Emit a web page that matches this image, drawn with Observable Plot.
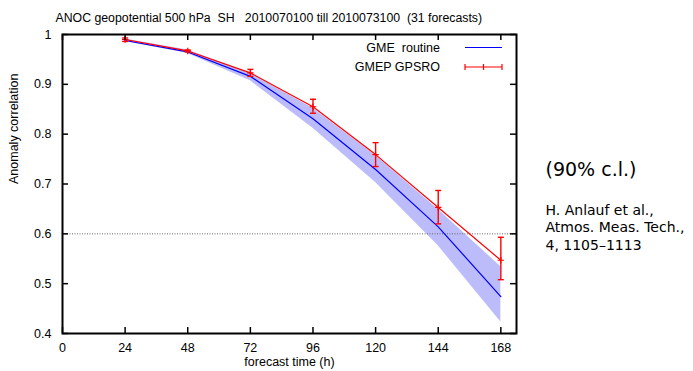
<!DOCTYPE html>
<html>
<head>
<meta charset="utf-8">
<script src="https://cdn.jsdelivr.net/npm/d3@7"></script>
<script src="https://cdn.jsdelivr.net/npm/@observablehq/plot@0.6"></script>
<style>
  html, body { margin: 0; padding: 0; background: #fff; }
  svg text { white-space: pre; }
</style>
</head>
<body>
<div id="chart"></div>
<script>
// ---- data ----
const hours        = [24, 48, 72, 96, 120, 144, 168];
const gmeRoutine   = [0.988, 0.965, 0.916, 0.831, 0.729, 0.614, 0.474];
const routineLow   = [0.986, 0.962, 0.907, 0.812, 0.703, 0.576, 0.423];
const routineHigh  = [0.991, 0.969, 0.922, 0.852, 0.757, 0.649, 0.534];
const gmepGpsro    = [0.990, 0.967, 0.923, 0.855, 0.759, 0.653, 0.547];
const gpsroLow     = [0.986, 0.965, 0.916, 0.842, 0.735, 0.620, 0.508];
const gpsroHigh    = [0.993, 0.969, 0.930, 0.870, 0.783, 0.687, 0.593];
const xTicks       = [0, 24, 48, 72, 96, 120, 144, 168];
const yTicks       = [0.4, 0.5, 0.6, 0.7, 0.8, 0.9, 1];
const refLevel     = [0.6];
const seriesNames  = ["GME  routine", "GMEP GPSRO"];
const titleText    = "ANOC geopotential 500 hPa  SH   2010070100 till 2010073100  (31 forecasts)";
const xLabel       = "forecast time (h)";
const yLabel       = "Anomaly correlation";
const noteBig      = "(90% c.l.)";
const noteRef      = "H. Anlauf et al.,\nAtmos. Meas. Tech.,\n4, 1105\u20131113";

const rows = hours.map((h, i) => ({
  h, gme: gmeRoutine[i], lo: routineLow[i], hi: routineHigh[i],
  gp: gmepGpsro[i], gpLo: gpsroLow[i], gpHi: gpsroHigh[i]
}));

const BLUE = "#0000ff", RED = "#ff0000", BAND = "#bcbcfb";
const W = 693, H = 371, ML = 62, MR = 177, MT = 34, MB = 38;
const FW = W - ML - MR, FH = H - MT - MB;
const TL = 6;

const cap = { draw(ctx, size) { const r = Math.sqrt(size / Math.PI); ctx.moveTo(-r, 0); ctx.lineTo(r, 0); } };

const chart = Plot.plot({
  width: W, height: H,
  marginLeft: ML, marginRight: MR, marginTop: MT, marginBottom: MB,
  style: { fontFamily: "'Liberation Sans', Arial, sans-serif", fontSize: "12.5px", background: "#fff", color: "#000" },
  x: { domain: [0, 174] },
  y: { domain: [0.4, 1] },
  marks: [
    Plot.areaY(rows, { x: "h", y1: "lo", y2: "hi", fill: BAND }),
    Plot.ruleY(refLevel, { stroke: "#666", strokeWidth: 1, strokeDasharray: "1,1.5" }),
    Plot.line(rows, { x: "h", y: "gme", stroke: BLUE, strokeWidth: 1.2 }),
    Plot.line(rows, { x: "h", y: "gp", stroke: RED, strokeWidth: 1.2 }),
    Plot.ruleX(rows, { x: "h", y1: "gpLo", y2: "gpHi", stroke: RED, strokeWidth: 1.4 }),
    Plot.dot(rows, { x: "h", y: "gpLo", symbol: cap, r: 3, fill: "none", stroke: RED, strokeWidth: 1.4 }),
    Plot.dot(rows, { x: "h", y: "gpHi", symbol: cap, r: 3, fill: "none", stroke: RED, strokeWidth: 1.4 }),
    Plot.dot(rows, { x: "h", y: "gp", symbol: "plus", r: 2.2, fill: "none", stroke: RED, strokeWidth: 1.2 }),
    // inward ticks (bottom/top/left/right)
    Plot.tickX(xTicks, { x: d => d, insetTop: FH - TL, stroke: "#000", strokeWidth: 1.5 }),
    Plot.tickX(xTicks, { x: d => d, insetBottom: FH - TL, stroke: "#000", strokeWidth: 1.5 }),
    Plot.tickY(yTicks, { y: d => d, insetRight: FW - TL, stroke: "#000", strokeWidth: 1.5 }),
    Plot.tickY(yTicks, { y: d => d, insetLeft: FW - TL, stroke: "#000", strokeWidth: 1.5 }),
    Plot.axisX({ ticks: xTicks, tickSize: 0, tickPadding: 10, label: null, tickFormat: d => String(d) }),
    Plot.axisY({ ticks: yTicks, tickSize: 0, tickPadding: 11, label: null, tickFormat: d => (d === 1 ? "1" : d.toFixed(1)) }),
    Plot.frame({ stroke: "#000", strokeWidth: 2 }),
    Plot.text([xLabel], { frameAnchor: "bottom", dy: 32.5, fontSize: 12.5 }),
    Plot.text([yLabel], { frameAnchor: "left", dx: -49, rotate: -90, fontSize: 12.5 }),
    Plot.text([titleText], { frameAnchor: "top-left", textAnchor: "start", dx: -7, dy: -21.5, fontSize: 12.3 }),
    Plot.text([noteBig], { frameAnchor: "top-right", textAnchor: "start", dx: 29, dy: 128,
      fontSize: 19, fontFamily: "'DejaVu Sans', sans-serif", style: "letter-spacing:1.2px" }),
    Plot.text([noteRef], { frameAnchor: "top-right", textAnchor: "start", lineAnchor: "top", lineHeight: 1.25,
      dx: 29, dy: 168, fontSize: 14, fontFamily: "'DejaVu Sans', sans-serif" })
  ]
});

document.getElementById("chart").appendChild(chart);

// legend (inside frame, top right)
const svg = d3.select(chart.tagName.toLowerCase() === "svg" ? chart : chart.querySelector("svg"));
const right = W - MR;
const lg = svg.append("g").attr("font-family", "'Liberation Sans', Arial, sans-serif").attr("font-size", 12.5);
const rowY = [MT + 13.5, MT + 33];
seriesNames.forEach((name, i) => {
  lg.append("text").attr("x", right - 76).attr("y", rowY[i]).attr("dy", "0.35em")
    .attr("text-anchor", "end").attr("fill", "#000").style("white-space", "pre").text(name);
});
lg.append("line").attr("x1", right - 51).attr("x2", right - 14).attr("y1", rowY[0]).attr("y2", rowY[0])
  .attr("stroke", BLUE).attr("stroke-width", 1.2);
lg.append("line").attr("x1", right - 51).attr("x2", right - 14).attr("y1", rowY[1]).attr("y2", rowY[1])
  .attr("stroke", RED).attr("stroke-width", 1.2);
[right - 51, right - 32.5, right - 14].forEach(x => {
  lg.append("line").attr("x1", x).attr("x2", x).attr("y1", rowY[1] - 3).attr("y2", rowY[1] + 3)
    .attr("stroke", RED).attr("stroke-width", 1.2);
});
</script>
</body>
</html>
